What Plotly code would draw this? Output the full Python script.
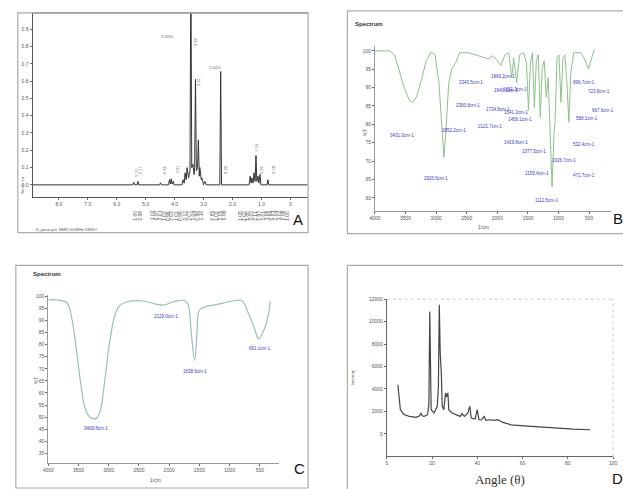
import plotly.graph_objects as go

W, H = 623, 489

# ---------------- Panel A : 1H NMR ----------------
nmr_ppm = [8.9, 5.45, 5.41, 5.38, 5.30, 5.27, 5.24, 4.52, 4.49, 4.46, 4.21, 4.18, 4.15, 4.12, 4.09,
           4.05, 4.02, 3.75, 3.71, 3.67, 3.64, 3.60, 3.57, 3.52, 3.47, 3.44, 3.41, 3.37, 3.33, 3.31,
           3.28, 3.25, 3.21, 3.18, 3.15, 3.13, 3.08, 3.06, 3.00, 2.96, 2.90, 2.44, 2.41, 2.38, 1.43,
           1.39, 1.36, 1.33, 1.29, 1.26, 1.22, 1.19, 1.16, 1.12, 1.09, 1.05, 1.02, 0.81, 0.78, 0.75, -0.6]
nmr_int = [0, 0, 0.015, 0, 0, 0.02, 0, 0, 0.012, 0, 0, 0.03, 0.005, 0.035, 0.005,
           0.02, 0, 0, 0.03, 0.01, 0.07, 0.03, 0.1, 0.04, 0.08, 1.3, 0.1, 0.12, 0.06, 0.1,
           0.61, 0.08, 0.1, 0.26, 0.05, 0.1, 0.03, 0.04, 0, 0.02, 0, 0, 0.655, 0, 0, 0.05,
           0.01, 0.04, 0.01, 0.07, 0.02, 0.17, 0.02, 0.05, 0.01, 0.06, 0, 0, 0.03, 0, 0]
nmr_xticks = [8, 7, 6, 5, 4, 3, 2, 1, 0]
nmr_xticklabels = ["8.0", "7.0", "6.0", "5.0", "4.0", "3.0", "2.0", "1.0", "0"]
nmr_yticks = [0, 0.1, 0.2, 0.3, 0.4, 0.5, 0.6, 0.7, 0.8, 0.9]
nmr_big_labels = [("3.3331", 4.25, 0.86), ("2.5011", 2.6, 0.68)]
nmr_peak_labels = [("3.29", 3.27, 0.83), ("3.21", 3.2, 0.6), ("2.24", 2.24, 0.09), ("1.16", 1.16, 0.22),
                   ("0.99", 0.99, 0.09), ("0.58", 0.58, 0.09), ("5.31", 5.31, 0.075),
                   ("5.17", 5.17, 0.09), ("4.32", 4.32, 0.086), ("3.91", 3.91, 0.09)]
integ_ppm = [5.37, 5.20, 4.80, 4.66, 4.52, 4.39, 4.25, 4.12, 3.98, 3.84, 3.64, 3.50, 3.37, 3.23, 3.10,
             2.72, 2.59, 2.45, 2.31, 1.77, 1.63, 1.50, 1.36, 1.22, 1.09, 0.95, 0.82, 0.68, 0.54,
             0.41, 0.27, 0.14]
integ_val = ["1.00", "0.98", "1.02", "0.97", "2.01", "1.05", "0.99", "2.03", "1.01", "0.96", "3.12",
             "2.07", "1.04", "0.98", "1.10", "0.95", "1.03", "2.00", "0.99", "1.08", "2.02", "1.00",
             "3.05", "2.11", "0.97", "1.01", "1.06", "0.94", "2.04", "1.02", "0.98", "1.00"]

# ---------------- Panel B : FTIR ----------------
ir_b_wn = [4000, 3759, 3678, 3598, 3518, 3437, 3389, 3325, 3244, 3164, 3083, 3019, 2955, 2907, 2874,
           2842, 2794, 2746, 2681, 2617, 2472, 2312, 2151, 2070, 1990, 1942, 1877, 1813, 1765, 1733,
           1685, 1636, 1572, 1524, 1492, 1459, 1427, 1395, 1363, 1331, 1299, 1266, 1234, 1202, 1170,
           1138, 1106, 1073, 1057, 1025, 993, 961, 928, 896, 864, 832, 800, 752, 639, 575, 511, 463, 414]
ir_b_t = [100.0, 100.0, 98.9, 94.6, 89.7, 86.5, 86.0, 87.3, 91.9, 97.3, 99.7, 98.9, 91.4, 79.2, 71.1,
          77.9, 91.4, 95.1, 96.8, 99.5, 99.5, 98.7, 97.8, 98.7, 96.8, 96.0, 98.9, 99.5, 92.7, 98.1,
          91.4, 98.9, 99.5, 96.8, 83.8, 96.8, 99.5, 84.6, 97.3, 98.9, 81.9, 95.4, 97.3, 87.3, 92.7,
          75.2, 63.0, 77.8, 81.1, 98.1, 98.9, 86.0, 98.1, 98.9, 91.4, 80.6, 94.1, 99.5, 99.5, 97.8,
          95.1, 97.8, 100.5]
ir_b_labels = ["3431.0cm-1", "2920.6cm-1", "2852.2cm-1", "2360.8cm-1", "2343.5cm-1", "2121.7cm-1",
               "1869.2cm-1", "1734.8cm-1", "1651.3cm-1", "1640.1cm-1", "1541.3cm-1", "1456.1cm-1",
               "1419.8cm-1", "1377.5cm-1", "1159.4cm-1", "1026.7cm-1", "1112.5cm-1", "896.7cm-1",
               "723.8cm-1", "667.9cm-1", "588.1cm-1", "532.4cm-1", "471.7cm-1"]
ir_b_label_wn = [3566, 3003, 2714, 2472, 2424, 2119, 1910, 1990, 1717, 1861, 1701, 1636, 1701, 1395,
                 1347, 913, 1186, 591, 334, 269, 543, 591, 591]
ir_b_label_t = [77.0, 65.4, 78.4, 85.2, 91.4, 79.5, 93.0, 84.1, 89.5, 89.2, 83.3, 81.4, 75.2, 72.5,
                66.5, 70.3, 59.2, 91.4, 88.9, 83.8, 81.6, 74.4, 66.0]
ir_b_yticks = [60, 65, 70, 75, 80, 85, 90, 95, 100]

# ---------------- Panel C : FTIR ----------------
ir_c_wn = [3995, 3695, 3614, 3533, 3463, 3397, 3316, 3207, 3137, 3072, 2990, 2909, 2827, 2692, 2420,
           2203, 2094, 1931, 1741, 1687, 1633, 1578, 1541, 1508, 1443, 1172, 899, 791, 683, 575, 520,
           438, 357, 330]
ir_c_t = [98.6, 97.3, 91.1, 77.5, 63.8, 54.2, 50.1, 49.5, 52.9, 63.8, 80.2, 91.1, 95.9, 97.7, 98.0,
          96.6, 96.3, 97.7, 98.2, 96.6, 84.3, 73.4, 84.3, 93.9, 95.2, 96.8, 98.2, 98.0, 92.5, 85.7,
          82.3, 85.7, 92.5, 98.0]
ir_c_labels = ["3409.8cm-1", "2129.0cm-1", "1638.6cm-1", "661.1cm-1"]
ir_c_label_wn = [3218, 2046, 1573, 498]
ir_c_label_t = [45.5, 91.8, 68.9, 78.3]
ir_c_yticks = [35, 40, 45, 50, 55, 60, 65, 70, 75, 80, 85, 90, 95, 100]

ir_xticks = [4000, 3500, 3000, 2500, 2000, 1500, 1000, 500]

# ---------------- Panel D : XRD ----------------
xrd_angle = [4.9, 5.2, 5.5, 6.0, 7.0, 7.8, 10.0, 12.9, 14.5, 15.1, 15.6, 16.5, 18.0, 18.6, 19.0, 19.3,
             19.6, 20.9, 22.3, 22.8, 23.2, 23.6, 24.1, 24.5, 25.2, 26.0, 26.4, 27.0, 27.4, 28.8, 31.0,
             32.5, 33.2, 34.3, 35.8, 36.7, 37.3, 39.0, 40.0, 40.7, 41.9, 43.0, 43.8, 45.5, 47.7, 49.1,
             51.3, 54.9, 60.7, 68.0, 75.2, 82.5, 89.9]
xrd_int = [4375, 3600, 2950, 2150, 1850, 1700, 1550, 1460, 1600, 1850, 1600, 1550, 1700, 2600, 10900,
           4200, 2150, 1850, 2450, 4200, 11500, 7200, 5400, 2450, 2150, 3650, 3300, 3650, 2150, 1850,
           1700, 1550, 1800, 1550, 1850, 2450, 1400, 1310, 2150, 1250, 1250, 1550, 1190, 1250, 1190,
           1250, 1010, 800, 710, 600, 510, 420, 360]
xrd_xticks = [0, 20, 40, 60, 80, 100]
xrd_yticks = [0, 2000, 4000, 6000, 8000, 10000, 12000]


def px(x):
    return x / W


def py(y):
    return 1 - y / H


FONT = "Liberation Sans"
fig = go.Figure()

fig.add_trace(go.Scatter(x=nmr_ppm, y=nmr_int, mode="lines", line=dict(color="#333333", width=1),
                         xaxis="x", yaxis="y", showlegend=False, hoverinfo="skip"))
fig.add_trace(go.Scatter(x=ir_b_wn, y=ir_b_t, mode="lines", line=dict(color="#8cc08c", width=1),
                         xaxis="x2", yaxis="y2", showlegend=False, hoverinfo="skip"))
fig.add_trace(go.Scatter(x=ir_c_wn, y=ir_c_t, mode="lines", line=dict(color="#96c0bc", width=1.2, shape="spline"),
                         xaxis="x3", yaxis="y3", showlegend=False, hoverinfo="skip"))
fig.add_trace(go.Scatter(x=xrd_angle, y=xrd_int, mode="lines", line=dict(color="#444444", width=1.2),
                         xaxis="x4", yaxis="y4", showlegend=False, hoverinfo="skip"))

tickfont = dict(family=FONT, size=5, color="#555555")
common = dict(showgrid=False, zeroline=False, showline=True, tickfont=tickfont, ticks="outside",
              ticklen=2, tickwidth=0.8)

layout = dict(
    width=W, height=H, margin=dict(l=0, r=0, t=0, b=0),
    paper_bgcolor="white", plot_bgcolor="white", font=dict(family=FONT),
    xaxis=dict(domain=[px(27), px(307)], anchor="y", range=[8.91, -0.61], tickvals=nmr_xticks,
               ticktext=nmr_xticklabels, linecolor="#555555", **common),
    yaxis=dict(domain=[py(195), py(10)], anchor="x", range=[-0.069, 0.994], tickvals=nmr_yticks,
               ticktext=[f"{v:.1f}" for v in nmr_yticks], linecolor="#555555", **common),
    xaxis2=dict(domain=[px(375), px(615)], anchor="y2", range=[4000, 141], tickvals=ir_xticks,
                ticktext=[str(v) for v in ir_xticks], linecolor="#999999", **common),
    yaxis2=dict(domain=[py(209), py(43)], anchor="x2", range=[56.5, 101.4], tickvals=ir_b_yticks,
                linecolor="#999999", **common),
    xaxis3=dict(domain=[px(43), px(277)], anchor="y3", range=[4000, 190], tickvals=ir_xticks,
                ticktext=[str(v) for v in ir_xticks], linecolor="#999999", **common),
    yaxis3=dict(domain=[py(463), py(294)], anchor="x3", range=[31, 100.4], tickvals=ir_c_yticks,
                linecolor="#999999", **common),
    xaxis4=dict(domain=[px(387), px(617)], anchor="y4", range=[0, 100], tickvals=xrd_xticks,
                linecolor="#666666", **common),
    yaxis4=dict(domain=[py(456), py(298)], anchor="x4", range=[-2000, 12000], tickvals=xrd_yticks,
                ticktext=[str(v) for v in xrd_yticks], linecolor="#666666", **common),
)
fig.update_layout(**layout)

shapes = []
# outer frames of the four panels
for (x0, y0, x1, y1) in [(12, 10, 307, 231), (347, 8, 630, 232), (10, 264, 307, 488), (347, 264, 630, 492)]:
    shapes.append(dict(type="rect", xref="paper", yref="paper", x0=px(x0), y0=py(y1), x1=px(x1), y1=py(y0),
                       line=dict(color="#aaaaaa", width=1.2)))
# panel A inner top frame
shapes.append(dict(type="line", xref="paper", yref="paper", x0=px(27), x1=px(307), y0=py(10), y1=py(10),
                   line=dict(color="#888888", width=1)))
# panel D faint dotted frame
shapes.append(dict(type="line", xref="paper", yref="paper", x0=px(387), x1=px(617), y0=py(298), y1=py(298),
                   line=dict(color="#cccccc", width=1, dash="dot")))
shapes.append(dict(type="line", xref="paper", yref="paper", x0=px(617), x1=px(617), y0=py(456), y1=py(298),
                   line=dict(color="#cccccc", width=1, dash="dot")))
fig.update_layout(shapes=shapes)

ann = []


def text(x, y, s, size=5, color="#555555", xref="paper", yref="paper", angle=0, anchor="center",
         family=FONT, yanchor="middle"):
    ann.append(dict(x=x, y=y, xref=xref, yref=yref, text=s, showarrow=False, textangle=angle,
                    font=dict(size=size, color=color, family=family), xanchor=anchor, yanchor=yanchor))


# Panel A texts
for s, x, y in nmr_big_labels:
    text(x, y, s, size=4, color="#666666", xref="x", yref="y")
for s, x, y in nmr_peak_labels:
    text(x, y, s, size=4, color="#666666", xref="x", yref="y", angle=-90)
for x, s in zip(integ_ppm, integ_val):
    text(x, py(214), s, size=5, color="#555555", xref="x", angle=-90)
text(px(17), py(183), "Norm. Int.", size=4, color="#666666", angle=-90)
text(px(28), py(228), "D_parat.pin  NMR 500MHz DMSO", size=4, color="#555555", anchor="left")
text(px(297), py(218), "A", size=15, color="#111111")

# Panel B texts
text(px(353), py(21), "<b>Spectrum</b>", size=6, color="#333333", anchor="left")
text(px(365), py(130), "%T", size=5, color="#555555", angle=-90)
text(px(485), py(225), "1/cm", size=5, color="#555555")
for s, x, y in zip(ir_b_labels, ir_b_label_wn, ir_b_label_t):
    text(x, y, s, size=4.5, color="#3a3acc", xref="x2", yref="y2")
text(px(615), py(217), "B", size=15, color="#111111", anchor="left")

# Panel C texts
text(px(25), py(273), "<b>Spectrum</b>", size=6, color="#333333", anchor="left")
text(px(30), py(380), "%T", size=5, color="#555555", angle=-90)
text(px(152), py(480), "1/cm", size=5, color="#555555")
for s, x, y in zip(ir_c_labels, ir_c_label_wn, ir_c_label_t):
    text(x, y, s, size=4.5, color="#3a3acc", xref="x3", yref="y3")
text(px(298), py(468), "C", size=15, color="#111111")

# Panel D texts
text(px(352), py(377), "Intensity", size=4, color="#555555", angle=-90)
text(px(502), py(479), "Angle (θ)", size=13, color="#333333", family="Liberation Serif")
text(px(614), py(478), "D", size=15, color="#111111", anchor="left")

fig.update_layout(annotations=ann)
fig.write_html("out.html", config={"displayModeBar": False, "staticPlot": True},
               post_script="document.body.style.margin='0px';document.body.style.overflow='hidden';")
